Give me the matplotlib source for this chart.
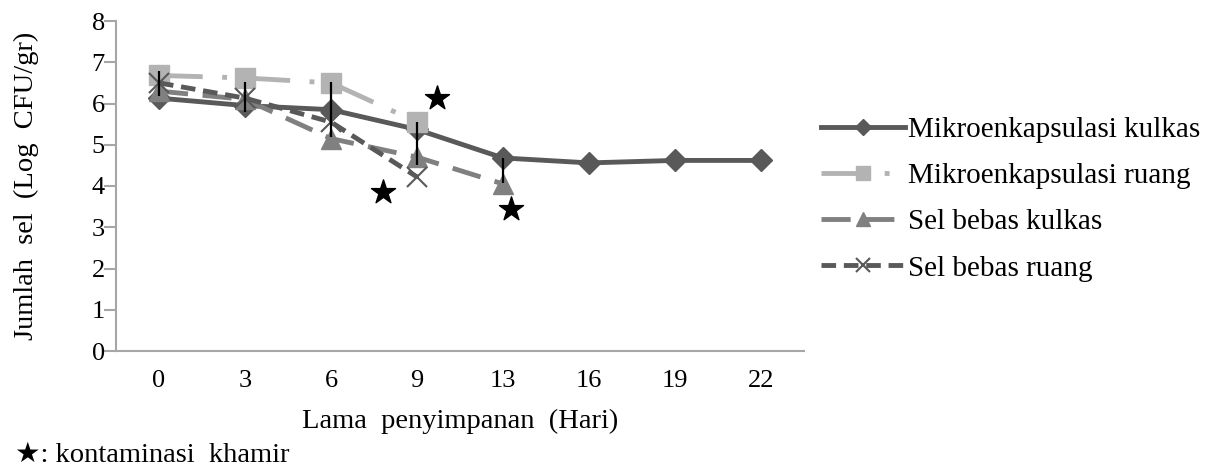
import numpy as np
import matplotlib.pyplot as plt

plt.rcParams['font.family'] = ['Liberation Serif', 'DejaVu Sans']

# data
days = ['0', '3', '6', '9', '13', '16', '19', '22']
mikro_kulkas = [6.13, 5.95, 5.85, 5.37, 4.68, 4.56, 4.62, 4.62]
mikro_ruang = [6.68, 6.62, 6.50, 5.55]
bebas_kulkas = [6.30, 6.10, 5.15, 4.70, 4.05]
bebas_ruang = [6.50, 6.13, 5.55, 4.22]

# error bars (centre, half length), days 0..13
err_center = [6.48, 6.15, 5.85, 5.03, 4.38]
err_half = [0.30, 0.36, 0.67, 0.52, 0.30]

# yeast contamination stars (category position, value)
star_x = [2.6, 3.23, 4.09]
star_y = [3.85, 6.13, 3.44]

labels = ['Mikroenkapsulasi kulkas', 'Mikroenkapsulasi ruang',
          'Sel bebas kulkas', 'Sel bebas ruang']

fig = plt.figure(figsize=(12.22, 4.66), dpi=100)
ax = fig.add_axes([116/1222, 1-351/466, (804-116)/1222, (351-21)/466])

x = np.arange(len(days))

ax.plot(x, mikro_kulkas, color='#595959', lw=3.5, marker='D', ms=11,
        label=labels[0])
ax.plot(x[:len(mikro_ruang)], mikro_ruang, color='#b3b3b3', lw=3.5,
        dashes=[9, 4, 1, 4], marker='s', ms=14, label=labels[1])
ax.plot(x[:len(bebas_kulkas)], bebas_kulkas, color='#808080', lw=3.5,
        dashes=[6, 3], marker='^', ms=14, label=labels[2])
ax.plot(x[:len(bebas_ruang)], bebas_ruang, color='#595959', lw=3.5,
        dashes=[3, 1.6], marker='x', ms=14, mew=1.5, label=labels[3])

ax.errorbar(x[:len(err_center)], err_center, yerr=err_half, fmt='none',
            ecolor='black', elinewidth=1.6, capsize=0, zorder=5)

ax.scatter(star_x, star_y, marker='*', s=330, color='black', zorder=6)

ax.set_xlim(-0.5, len(days) - 0.5)
ax.set_ylim(0, 8)
ax.set_xticks(x)
ax.set_xticklabels(days)
ax.set_yticks(range(9))

for s in ['top', 'right']:
    ax.spines[s].set_visible(False)
for s in ['left', 'bottom']:
    ax.spines[s].set_color('#a6a6a6')
    ax.spines[s].set_linewidth(1.5)
ax.tick_params(axis='y', length=9, width=1.5, color='#a6a6a6', labelsize=19, pad=-1)
ax.tick_params(axis='x', length=0, labelsize=19, pad=14)

ax.set_xlabel('Lama  penyimpanan  (Hari)', fontsize=20.5, labelpad=12)
ax.set_ylabel('Jumlah  sel  (Log  CFU/gr)', fontsize=20.5, labelpad=38)

leg = ax.legend(loc='center left', bbox_to_anchor=(809/1222, 1-199/466),
                bbox_transform=fig.transFigure, frameon=False, fontsize=21,
                handlelength=2.9, handletextpad=0.1, labelspacing=0.68,
                borderaxespad=0, markerscale=0.75)

fig.text(15/1222, 1-455/466, '★: kontaminasi  khamir', fontsize=20.5,
         va='center', ha='left')

fig.savefig('out.png', dpi=100)
